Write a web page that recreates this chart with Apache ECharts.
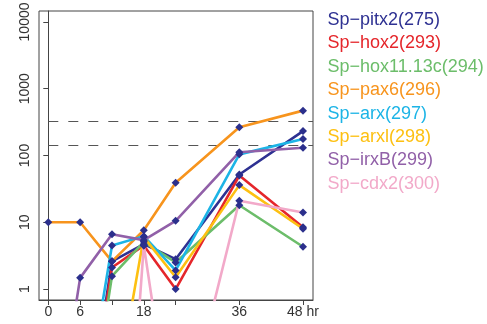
<!DOCTYPE html>
<html>
<head>
<meta charset="utf-8">
<script src="https://cdn.jsdelivr.net/npm/echarts@6/dist/echarts.min.js"></script>
<style>
  html, body { margin: 0; padding: 0; background: #fff; }
  #chart { width: 487px; height: 324px; }
</style>
</head>
<body>
<div id="chart"></div>
<script>
// Sampling times (hours post fertilisation)
const hours = [0, 6, 12, 18, 24, 36, 48];
const xTickValues = [0, 6, 12, 18, 24, 36, 48];
const xLabelValues = [0, 6, 18, 36, 48];
const yTickValues = [1, 10, 100, 1000, 10000];

// Transcript levels per gene; tiny values sit below the visible range
const pitx2 = [0.002, 0.002, 2.6, 4.7, 2.8, 52, 232];
const hox2 = [0.001, 0.0018, 2.1, 4.5, 1.0, 50, 8.4];
const hox1113c = [0.001, 0.0014, 1.56, 5.1, 2.5, 18, 4.3];
const pax6 = [10, 10, 2.6, 7.6, 39, 265, 470];
const arx = [0.006, 0.006, 4.5, 6.2, 1.9, 104, 177];
const arxl = [0.01, 0.01, 0.012, 6.0, 1.5, 36, 8.0];
const irxB = [0.0013, 1.47, 6.6, 5.4, 10.5, 112, 131];
const cdx2 = [0.000001, 0.000001, 0.000001, 4.5, 0.003, 21, 14];

// Reference thresholds (dashed)
const thresholds = [330, 140];

const geneNames = [
  'Sp\u2212pitx2(275)', 'Sp\u2212hox2(293)', 'Sp\u2212hox11.13c(294)', 'Sp\u2212pax6(296)',
  'Sp\u2212arx(297)', 'Sp\u2212arxl(298)', 'Sp\u2212irxB(299)', 'Sp\u2212cdx2(300)'
];
const geneValues = [pitx2, hox2, hox1113c, pax6, arx, arxl, irxB, cdx2];
const geneColors = ['#2e3192', '#e5262b', '#6cbd6a', '#f7941d', '#1cb4e6', '#fdc012', '#9160a8', '#f2a9c9'];

const markerColor = '#2b2f8c';
const axisColor = '#444';
const font = '"Liberation Sans", Arial, sans-serif';

const chart = echarts.init(document.getElementById('chart'), null, { renderer: 'canvas' });

const series = geneNames.map((name, i) => {
  const s = {
    name: name,
    type: 'line',
    data: hours.map((h, j) => [h, geneValues[i][j]]),
    symbol: 'diamond',
    symbolSize: 8,
    showSymbol: true,
    clip: true,
    lineStyle: { color: geneColors[i], width: 2.6 },
    itemStyle: { color: markerColor },
    emphasis: { disabled: true },
    z: 2
  };
  if (i === 0) {
    s.markLine = {
      silent: true,
      symbol: ['none', 'none'],
      label: { show: false },
      lineStyle: { color: '#555', width: 1, type: [10, 10], dashOffset: 10.7 },
      data: thresholds.map(v => ({ yAxis: v })),
      z: 1
    };
  }
  return s;
});

chart.setOption({
  animation: false,
  backgroundColor: '#fff',
  textStyle: { fontFamily: font },
  grid: {
    left: 39, top: 11, right: 174, bottom: 24,
    show: true, borderColor: axisColor, borderWidth: 1,
    outerBoundsMode: 'none', containLabel: false
  },
  legend: {
    orient: 'vertical',
    left: 322.5,
    top: 10,
    padding: 0,
    icon: 'none',
    itemWidth: 0,
    itemHeight: 20,
    itemGap: 3.4,
    selectedMode: false,
    textStyle: { fontSize: 18, lineHeight: 20, fontFamily: font },
    data: geneNames.map((n, i) => ({ name: n, textStyle: { color: geneColors[i] } }))
  },
  xAxis: {
    type: 'value',
    min: -1.75,
    max: 49.88,
    splitLine: { show: false },
    axisLine: { show: true, onZero: false, lineStyle: { color: axisColor, width: 1 } },
    axisTick: { show: true, length: 5, customValues: xTickValues, lineStyle: { color: axisColor } },
    axisLabel: {
      customValues: xLabelValues,
      color: '#333', fontSize: 14, margin: 5,
      formatter: v => (v === 48 ? '48 hr' : String(v))
    }
  },
  yAxis: {
    type: 'log',
    logBase: 10,
    min: 0.685,
    max: 14600,
    splitLine: { show: false },
    axisLine: { show: true, lineStyle: { color: axisColor, width: 1 } },
    axisTick: { show: true, length: 5, customValues: yTickValues, lineStyle: { color: axisColor } },
    axisLabel: {
      customValues: yTickValues,
      color: '#333', fontSize: 14, rotate: 90, margin: 7,
      formatter: v => String(Math.round(v))
    }
  },
  series: series
});
</script>
</body>
</html>
